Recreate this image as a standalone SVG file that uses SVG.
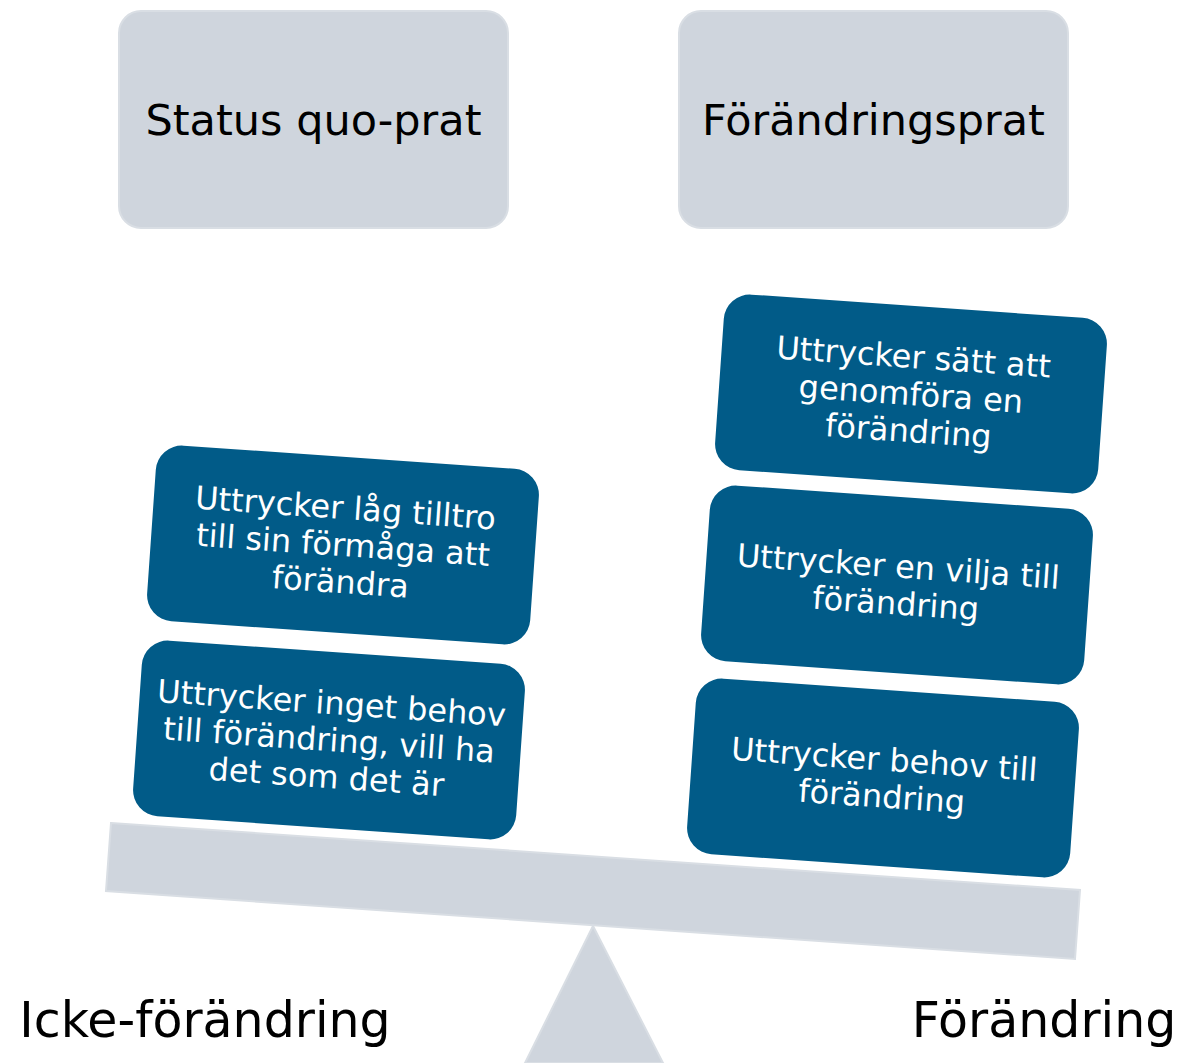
<svg xmlns="http://www.w3.org/2000/svg" width="1180" height="1063" viewBox="0 0 1180 1063">
<style>
.gray{fill:#cfd5dd;stroke:#d9dee4;stroke-width:2}
.blue{fill:#015b88}
.lbl{font-family:"DejaVu Sans",Verdana,sans-serif;fill:#000;text-anchor:middle}
.bt{font-family:"DejaVu Sans",Verdana,sans-serif;fill:#fff;font-size:32px;text-anchor:middle}
</style>
<rect width="1180" height="1063" fill="#fff"/>
<g id="status-quo">
<rect class="gray" x="119" y="11" width="389" height="217" rx="22"/>
<text class="lbl" x="313.5" y="135" font-size="43">Status quo-prat</text>
</g>
<g id="forandringsprat">
<rect class="gray" x="679" y="11" width="389" height="217" rx="22"/>
<text class="lbl" x="873.5" y="135" font-size="43">Förändringsprat</text>
</g>
<g id="beam">
<polygon class="gray" points="111,823 1080,890 1075,959 106,891"/>
</g>
<g id="fulcrum">
<polygon class="gray" points="593,926 663,1063 525,1063"/>
</g>
<g id="box-lag-tilltro" transform="translate(343,545) rotate(4)">
<rect class="blue" x="-192" y="-88" width="384" height="176" rx="26"/>
<text class="bt"><tspan x="0" y="-26">Uttrycker låg tilltro</tspan><tspan x="0" y="11">till sin förmåga att</tspan><tspan x="0" y="48">förändra</tspan></text>
</g>
<g id="box-inget-behov" transform="translate(329,740) rotate(4)">
<rect class="blue" x="-192" y="-88" width="384" height="176" rx="26"/>
<text class="bt"><tspan x="0" y="-26">Uttrycker inget behov</tspan><tspan x="0" y="11">till förändring, vill ha</tspan><tspan x="0" y="48">det som det är</tspan></text>
</g>
<g id="box-satt" transform="translate(911,394) rotate(4)">
<rect class="blue" x="-192" y="-88" width="384" height="176" rx="26"/>
<text class="bt"><tspan x="0" y="-26">Uttrycker sätt att</tspan><tspan x="0" y="11">genomföra en</tspan><tspan x="0" y="48">förändring</tspan></text>
</g>
<g id="box-vilja" transform="translate(897,585) rotate(4)">
<rect class="blue" x="-192" y="-88" width="384" height="176" rx="26"/>
<text class="bt"><tspan x="0" y="-7.5">Uttrycker en vilja till</tspan><tspan x="0" y="29.5">förändring</tspan></text>
</g>
<g id="box-behov" transform="translate(883,778) rotate(4)">
<rect class="blue" x="-192" y="-88" width="384" height="176" rx="26"/>
<text class="bt"><tspan x="0" y="-7.5">Uttrycker behov till</tspan><tspan x="0" y="29.5">förändring</tspan></text>
</g>
<g id="connectors"/>
<g id="labels">
<text class="lbl" x="205" y="1037" font-size="49">Icke-förändring</text>
<text class="lbl" x="1044" y="1037" font-size="49">Förändring</text>
</g>
</svg>
